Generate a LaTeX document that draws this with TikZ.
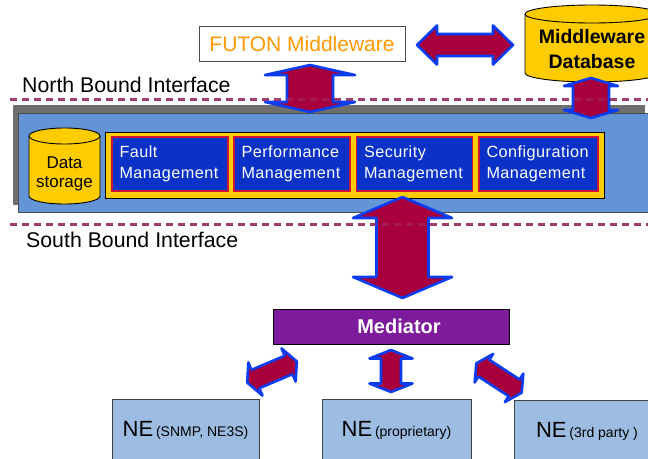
\documentclass[tikz,border=0pt]{standalone}
\usepackage{fontspec}
\setmainfont{Liberation Sans}
\newfontfamily\mgfont[LetterSpace=3]{Liberation Sans}
\definecolor{arrowred}{HTML}{A8003C}
\definecolor{arrowblue}{HTML}{0A3CF0}
\definecolor{dashc}{HTML}{9E3C6E}
\definecolor{mainblue}{HTML}{6394D6}
\definecolor{shadowgray}{HTML}{6E6E6E}
\definecolor{yellowc}{HTML}{FFCC00}
\definecolor{mgblue}{HTML}{0A32C8}
\definecolor{mgred}{HTML}{C8143C}
\definecolor{mediatorc}{HTML}{7E1A9C}
\definecolor{neblue}{HTML}{9CBCE2}
\definecolor{futonorange}{HTML}{FF9900}
\newcommand\dblarrow[6]{%
  \begin{scope}[shift={(#1)},rotate=#2]
    \filldraw[blockarrow] (-#3,0) -- (-#3+#4,-#5) -- (-#3+#4,-#6) -- (#3-#4,-#6) -- (#3-#4,-#5) -- (#3,0)
      -- (#3-#4,#5) -- (#3-#4,#6) -- (-#3+#4,#6) -- (-#3+#4,#5) -- cycle;
  \end{scope}}
\newcommand\cyl[6]{% cx, rx, top ellipse cy, bottom ellipse cy, ry, name
  \filldraw[cylstyle] (#1-#2,#3) -- (#1-#2,#4) arc[start angle=180,end angle=0,x radius=#2,y radius=#5]
     -- (#1+#2,#3) arc[start angle=0,end angle=-180,x radius=#2,y radius=#5] -- cycle;
  \draw[cylstyle] (#1-#2,#3) arc[start angle=180,end angle=0,x radius=#2,y radius=#5];
  \coordinate (#6) at (#1,#3);}
\begin{document}
\begin{tikzpicture}[x=1pt,y=-1pt,
  lbl/.style={font=\fontsize{21.3}{24}\selectfont, inner sep=0pt, anchor=west},
  dashline/.style={draw=dashc, line width=3pt, dash pattern=on 7pt off 5pt},
  blockarrow/.style={fill=arrowred, draw=arrowblue, line width=2.6pt, line join=round},
  cylstyle/.style={fill=yellowc, draw=black, line width=0.9pt},
  plainbox/.style={inner sep=0pt, anchor=north west},
  mgmt/.style={draw=mgred, line width=1.8pt, fill=mgblue, text=white,
     font=\mgfont\fontsize{16.2}{21}\selectfont, align=left, text width=101pt,
     inner xsep=7.5pt, minimum height=54pt},
  nebox/.style={draw=black!75, line width=1pt, fill=neblue, minimum height=62pt, inner sep=0pt},
  nebig/.style={font=\fontsize{20}{24}\selectfont}
]
\clip (0,0) rectangle (648,458);
\fill[white] (0,0) rectangle (648,458);

% interface lines and labels
\node[lbl] (nbi) at (22,85) {North Bound Interface};
\node[lbl] (sbi) at (26,240) {South Bound Interface};
\coordinate (nl) at (10,99);  \coordinate (nr) at (648,99);
\coordinate (sl) at (10,224); \coordinate (sr) at (648,224);
\draw[dashline] (nl) -- (nr);
\draw[dashline] (sl) -- (sr);

% top
\node[draw=black!70, line width=1pt, fill=white, minimum width=206pt, minimum height=35pt,
      text=futonorange, font=\fontsize{21}{24}\selectfont] (futon) at (302,43.5) {FUTON Middleware};
\cyl{592}{67}{14}{73}{9}{dbtop}
\node[font=\bfseries\fontsize{19.5}{25}\selectfont, align=center] (db) at (592,49.5) {Middleware\\Database};

% manager panel
\node[plainbox, fill=shadowgray, minimum width=632pt, minimum height=100pt] (shadow) at (13,105) {};
\node[plainbox, fill=mainblue, draw=black!70, line width=0.8pt, minimum width=660pt, minimum height=99pt] (panel) at (18,113) {};
\node[plainbox, fill=yellowc, draw=black, line width=0.9pt, minimum width=499pt, minimum height=66pt] (strip) at (105,132) {};
\node[mgmt] (fault) at (170,164) {Fault\\Management};
\node[mgmt] (perf) at (292,164) {Performance\\Management};
\node[mgmt] (sec) at (414.5,164) {Security\\Management};
\node[mgmt, text width=104pt] (conf) at (538.5,164) {Configuration\\Management};
\cyl{64.5}{35.5}{136}{196}{8}{dstop}
\node[font=\fontsize{17}{18.5}\selectfont, align=center] (ds) at (64.5,174) {Data\\storage};

% mediator and NEs
\node[draw=black, line width=1pt, fill=mediatorc, minimum width=236pt, minimum height=35pt,
      text=white, font=\bfseries\fontsize{20}{24}\selectfont] (med) at (391,326.5) {\hspace*{16pt}Mediator};
\node[nebox, minimum width=147pt] (ne1) at (185.5,430) {{\fontsize{22}{24}\selectfont NE} {\fontsize{14}{16}\selectfont (SNMP, NE3S)}};
\node[nebox, minimum width=149pt] (ne2) at (396.5,430) {{\fontsize{22}{24}\selectfont NE} {\fontsize{14}{16}\selectfont (proprietary)}};
\node[nebox, minimum width=146pt] (ne3) at (587,431) {{\fontsize{22}{24}\selectfont NE} {\fontsize{14}{16}\selectfont (3rd party )}};

% block arrows
\coordinate (a1) at (310,88.5);
\coordinate (a2) at (465,45);
\coordinate (a3) at (591,98);
\coordinate (a4) at (402.5,247.5);
\coordinate (a5) at (391,371);
\coordinate (a6) at (272,372);
\coordinate (a7) at (499,378);
\dblarrow{a1}{90}{23.5}{10}{45}{23}
\dblarrow{a2}{0}{48}{20}{19.5}{11}
\dblarrow{a3}{90}{20}{8}{27}{18}
\dblarrow{a4}{90}{50.5}{21}{49.5}{26}
\dblarrow{a5}{90}{21}{8.5}{21.5}{10}
\dblarrow{a6}{23}{27}{9}{18}{10}
\dblarrow{a7}{-33}{27}{9}{17}{10}

% dashes seen through the arrows
\draw[dashline, opacity=0.45] (nl) -- (nr);
\draw[dashline, opacity=0.45] (sl) -- (sr);
\end{tikzpicture}
\end{document}
